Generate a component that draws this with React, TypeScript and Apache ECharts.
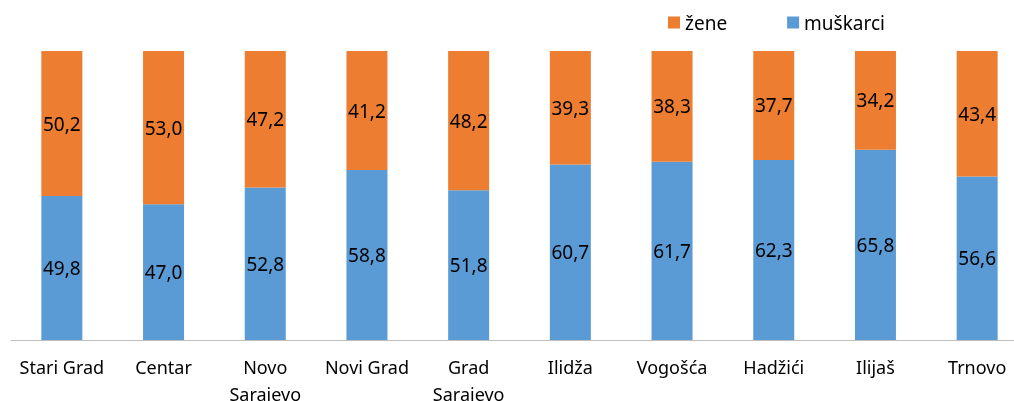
import React, { useEffect, useRef } from "react";
import * as echarts from "echarts";

const categories = ["Stari Grad", "Centar", "Novo Sarajevo", "Novi Grad", "Grad Sarajevo", "Ilidža", "Vogošća", "Hadžići", "Ilijaš", "Trnovo"];
const muskarci = [49.8, 47.0, 52.8, 58.8, 51.8, 60.7, 61.7, 62.3, 65.8, 56.6];
const zene = [50.2, 53.0, 47.2, 41.2, 48.2, 39.3, 38.3, 37.7, 34.2, 43.4];

const FONT = "'Noto Sans', sans-serif";

export default function App() {
  const ref = useRef<HTMLDivElement>(null);
  useEffect(() => {
    if (!ref.current) return;
    const chart = echarts.init(ref.current, null, { renderer: "svg" });
    const fmt = (p: any) => Number(p.value).toFixed(1).replace(".", ",");
    chart.setOption({
      animation: false,
      textStyle: { fontFamily: FONT },
      legend: {
        data: ["žene", "muškarci"],
        left: 668,
        top: 13,
        padding: 0,
        itemWidth: 12,
        itemHeight: 12,
        itemGap: 60,
        icon: "rect",
        textStyle: { fontSize: 19, color: "#000", fontFamily: FONT },
      },
      grid: { left: 11, right: -14, top: 51, bottom: 61, containLabel: false, outerBoundsMode: "none" },
      xAxis: {
        type: "category",
        data: categories,
        axisLine: { lineStyle: { color: "#bfbfbf", width: 1 } },
        axisTick: { length: 6, lineStyle: { color: "#bfbfbf" } },
        axisLabel: {
          interval: 0,
          fontSize: 18,
          color: "#000",
          margin: 13,
          lineHeight: 27,
          fontFamily: FONT,
          formatter: (v: string) => (v.length > 11 ? v.replace(" ", "\n") : v),
        },
      },
      yAxis: { type: "value", min: 0, max: 100, show: false },
      series: [
        {
          name: "muškarci",
          type: "bar",
          stack: "t",
          data: muskarci,
          barWidth: 41,
          itemStyle: { color: "#5B9BD5" },
          label: { show: true, position: "inside", color: "#000", fontSize: 19, fontFamily: FONT, formatter: fmt },
        },
        {
          name: "žene",
          type: "bar",
          stack: "t",
          data: zene,
          barWidth: 41,
          itemStyle: { color: "#ED7D31" },
          label: { show: true, position: "inside", color: "#000", fontSize: 19, fontFamily: FONT, formatter: fmt },
        },
      ],
    });
    return () => chart.dispose();
  }, []);
  return <div ref={ref} style={{ position: "fixed", left: 0, top: 0, width: 1014, height: 401 }} />;
}
